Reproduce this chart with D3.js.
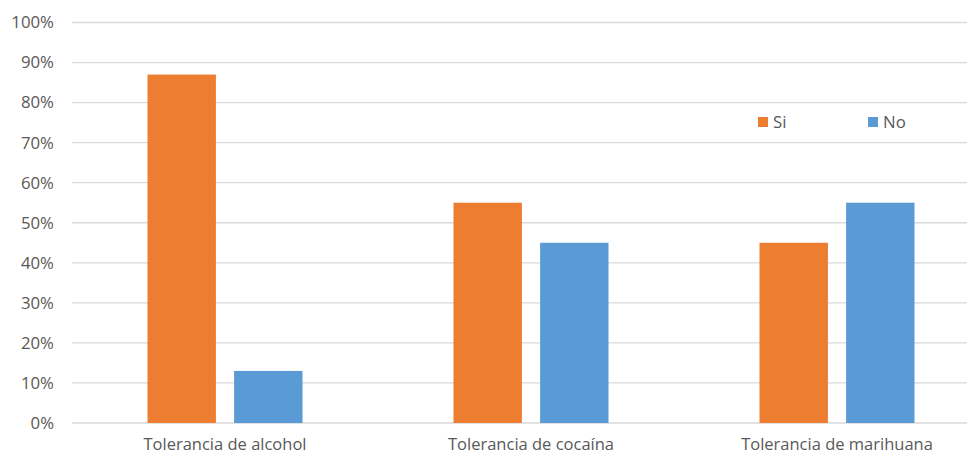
<!DOCTYPE html>
<html>
<head>
<meta charset="utf-8">
<script src="https://cdn.jsdelivr.net/npm/d3@7"></script>
<style>
  body { margin: 0; background: #fff; }
  text { font-family: "Open Sans", "Liberation Sans", sans-serif; fill: #595959; }
</style>
</head>
<body>
<div class="vizHolder"></div>
<script>
var categories = ["Tolerancia de alcohol", "Tolerancia de cocaína", "Tolerancia de marihuana"];
var seriesNames = ["Si", "No"];
var siValues = [87, 55, 45];
var noValues = [13, 45, 55];
var yTicks = [0, 10, 20, 30, 40, 50, 60, 70, 80, 90, 100];
var colors = ["#ED7D31", "#5B9BD5"];

var width = 967, height = 456;
var margin = {top: 22.5, left: 72, bottom: 33};
var plotRight = 990;

var svg = d3.select(".vizHolder")
            .append("svg")
            .attr("width", width)
            .attr("height", height);

var xScale = d3.scaleBand()
               .domain(categories)
               .range([margin.left, plotRight])
               .paddingInner(0).paddingOuter(0);

var yScale = d3.scaleLinear()
               .domain([0, 100])
               .range([height - margin.bottom, margin.top]);

var xSub = d3.scaleBand()
             .domain(seriesNames)
             .range([xScale.bandwidth() / 2 - 77.5, xScale.bandwidth() / 2 + 77.5])
             .paddingInner(0.21).paddingOuter(0);

// gridlines
svg.append("g").selectAll("line")
   .data(yTicks)
   .enter().append("line")
   .attr("x1", margin.left)
   .attr("x2", plotRight)
   .attr("y1", function(d) { return yScale(d); })
   .attr("y2", function(d) { return yScale(d); })
   .attr("stroke", "#d9d9d9")
   .attr("stroke-width", 1.3);

// y labels
svg.append("g").selectAll("text")
   .data(yTicks)
   .enter().append("text")
   .attr("x", 54)
   .attr("y", function(d) { return yScale(d); })
   .attr("dy", "0.35em")
   .attr("text-anchor", "end")
   .style("font-size", "16.8px")
   .text(function(d) { return d + "%"; });

// bars
var rows = categories.map(function(c, i) {
    return {cat: c, vals: [siValues[i], noValues[i]]};
});

var groups = svg.selectAll(".grp")
   .data(rows)
   .enter().append("g")
   .attr("class", "grp")
   .attr("transform", function(d) { return "translate(" + xScale(d.cat) + ",0)"; });

groups.selectAll("rect")
   .data(function(d) { return d.vals.map(function(v, j) { return {s: seriesNames[j], v: v, j: j}; }); })
   .enter().append("rect")
   .attr("x", function(d) { return xSub(d.s); })
   .attr("width", xSub.bandwidth())
   .attr("y", function(d) { return yScale(d.v); })
   .attr("height", function(d) { return yScale(0) - yScale(d.v); })
   .attr("fill", function(d) { return colors[d.j]; });

// category labels
svg.append("g").selectAll("text")
   .data(categories)
   .enter().append("text")
   .attr("x", function(d) { return xScale(d) + xScale.bandwidth() / 2; })
   .attr("y", 450)
   .attr("text-anchor", "middle")
   .style("font-size", "16.5px")
   .text(function(d) { return d; });

// legend
var legendX = [758, 868];
var legend = svg.selectAll(".legend")
   .data(seriesNames)
   .enter().append("g")
   .attr("class", "legend")
   .attr("transform", function(d, i) { return "translate(" + legendX[i] + ",117)"; });

legend.append("rect")
   .attr("width", 10)
   .attr("height", 10)
   .attr("fill", function(d, i) { return colors[i]; });

legend.append("text")
   .attr("x", 15)
   .attr("y", 5)
   .attr("dy", "0.35em")
   .style("font-size", "16.8px")
   .text(function(d) { return d; });
</script>
</body>
</html>
